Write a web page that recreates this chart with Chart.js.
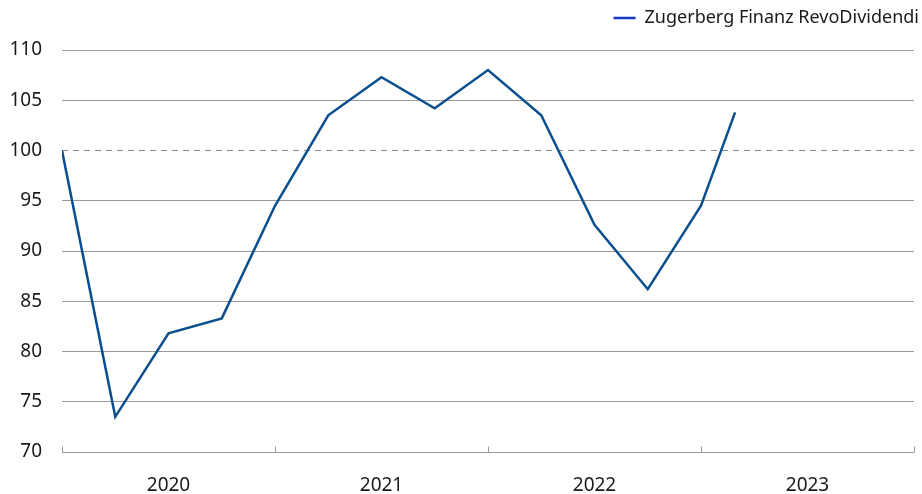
<!DOCTYPE html>
<html>
<head>
<meta charset="utf-8">
<script src="https://cdn.jsdelivr.net/npm/chart.js@4/dist/chart.umd.min.js"></script>
<style>
  html, body { margin: 0; padding: 0; background: #fff; }
  #wrap { width: 922px; height: 494px; }
</style>
</head>
<body>
<div id="wrap"><canvas id="chart" width="922" height="494"></canvas></div>
<script>
// Quarterly index values (first point = 100), last point is late Feb 2023
const dates = [2020.0, 2020.25, 2020.5, 2020.75, 2021.0, 2021.25, 2021.5, 2021.75,
               2022.0, 2022.25, 2022.5, 2022.75, 2023.0, 2023.16];
const values = [100, 73.5, 81.8, 83.3, 94.5, 103.5, 107.3, 104.2,
                108.0, 103.5, 92.6, 86.2, 94.5, 103.8];
const years = [2020, 2021, 2022, 2023, 2024];
const yTicks = [70, 75, 80, 85, 90, 95, 100, 105, 110];
const baseline = 100;
const seriesName = 'Zugerberg Finanz RevoDividendi';

const lineColor = '#0b4f8e';
const legendColor = '#1537c4';
const gridColor = '#9a9a9a';
const textColor = '#1a1a1a';
const fontFamily = '"Noto Sans", "Open Sans", sans-serif';

// small upward tick marks at each year boundary, legend nudged to the right edge
const yearTicks = {
    id: 'yearTicks',
    afterInit(chart) {
        const lg = chart.legend;
        const origFit = lg.fit;
        lg.fit = function () {
            origFit.call(this);
            this.height = 50;
        };
    },
    afterLayout(chart) {
        chart.legend.left += 14;
        chart.legend.right += 14;
    },
    afterDraw(chart) {
        const x = chart.scales.x, y = chart.scales.y;
        const ctx = chart.ctx;
        const bottom = Math.round(y.getPixelForValue(yTicks[0])) + 0.5;
        ctx.save();
        ctx.strokeStyle = gridColor;
        ctx.lineWidth = 1;
        years.forEach(yr => {
            const px = Math.round(x.getPixelForValue(yr)) + 0.5;
            ctx.beginPath();
            ctx.moveTo(px, bottom - 6);
            ctx.lineTo(px, bottom);
            ctx.stroke();
        });
        ctx.restore();
    }
};

new Chart(document.getElementById('chart'), {
    type: 'line',
    data: {
        datasets: [{
            label: seriesName,
            data: dates.map((d, i) => ({ x: d, y: values[i] })),
            borderColor: lineColor,
            backgroundColor: legendColor,
            borderWidth: 2.5,
            pointRadius: 0,
            tension: 0,
            order: 0
        }, {
            label: 'baseline',
            data: [{ x: years[0], y: baseline }, { x: years[years.length - 1], y: baseline }],
            borderColor: '#8a8a8a',
            borderWidth: 1,
            borderDash: [6, 5],
            pointRadius: 0,
            order: 1
        }]
    },
    options: {
        responsive: false,
        animation: false,
        layout: { padding: { left: 8, right: 8, top: 0, bottom: 0 } },
        plugins: {
            tooltip: { enabled: false },
            legend: {
                align: 'end',
                labels: {
                    generateLabels: chart => [{
                        text: seriesName,
                        strokeStyle: legendColor,
                        fillStyle: legendColor,
                        lineWidth: 2.5,
                        pointStyle: 'line',
                        datasetIndex: 0,
                        fontColor: textColor
                    }],
                    usePointStyle: true,
                    pointStyleWidth: 22,
                    boxHeight: 10,
                    color: textColor,
                    font: { family: fontFamily, size: 18 },
                    padding: 9
                }
            }
        },
        scales: {
            x: {
                type: 'linear',
                min: years[0],
                max: years[years.length - 1],
                afterBuildTicks: axis => {
                    axis.ticks = years.slice(0, -1).map(y => ({ value: y + 0.5 }));
                },
                afterFit: axis => { axis.height = 42; },
                grid: { display: false, drawTicks: false },
                border: { display: false },
                ticks: {
                    autoSkip: false,
                    maxRotation: 0,
                    padding: 25,
                    color: textColor,
                    font: { family: fontFamily, size: 19, lineHeight: 0.9 },
                    callback: v => String(Math.floor(v))
                }
            },
            y: {
                min: yTicks[0],
                max: yTicks[yTicks.length - 1],
                afterBuildTicks: axis => {
                    axis.ticks = yTicks.map(v => ({ value: v }));
                },
                afterFit: axis => { axis.width = 54; },
                grid: {
                    color: ctx => ctx.tick && ctx.tick.value === baseline ? 'rgba(0,0,0,0)' : gridColor,
                    drawTicks: false,
                    lineWidth: 1
                },
                border: { display: false },
                ticks: {
                    padding: 20,
                    color: textColor,
                    font: { family: fontFamily, size: 19 }
                }
            }
        }
    },
    plugins: [yearTicks]
});
</script>
</body>
</html>
